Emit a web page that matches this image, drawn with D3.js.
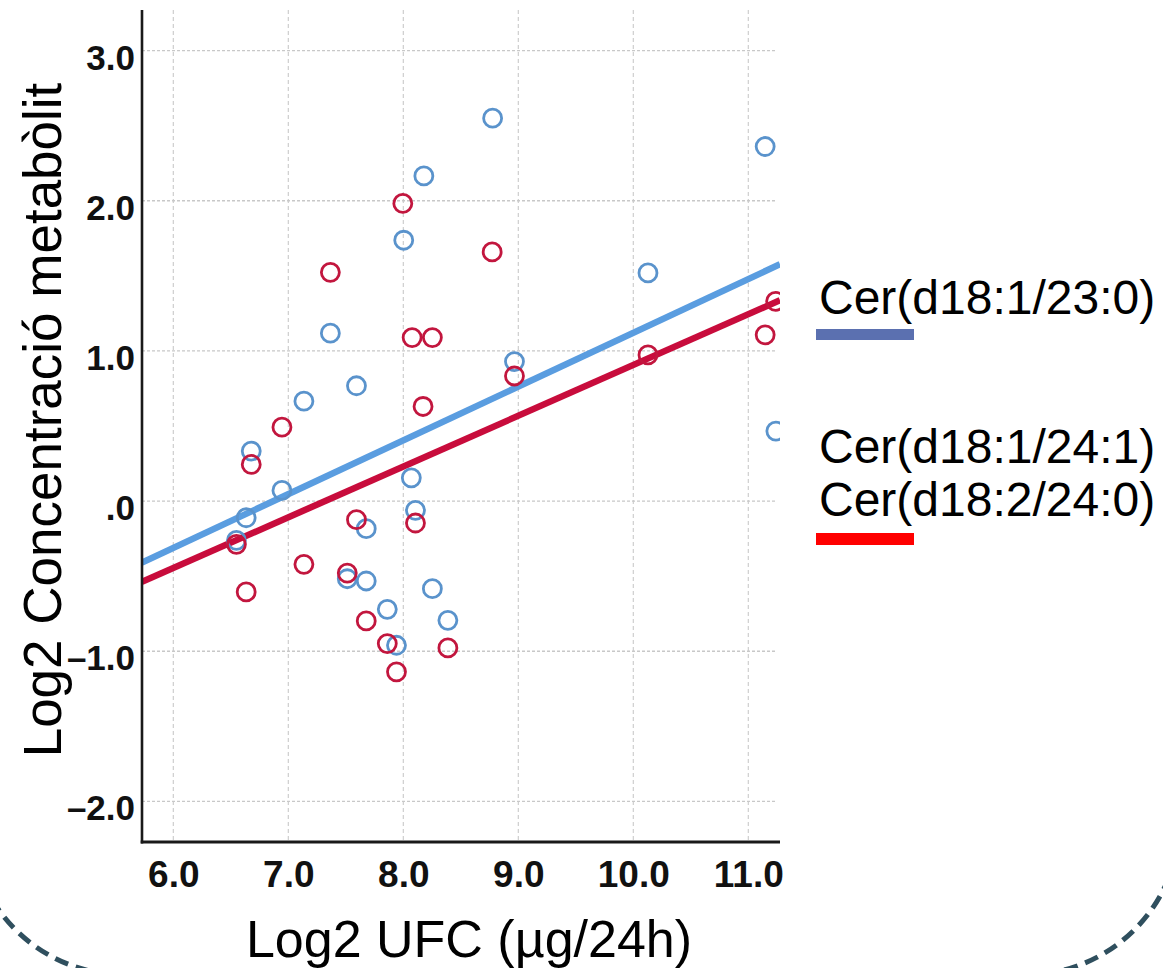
<!DOCTYPE html>
<html>
<head>
<meta charset="utf-8">
<script src="https://cdn.jsdelivr.net/npm/d3@7"></script>
<style>
  html, body { margin: 0; padding: 0; background: #ffffff; }
  svg { display: block; }
</style>
</head>
<body>
<svg id="chart" width="1163" height="968"></svg>
<script>
// ---- data ----
const xTicks = [6, 7, 8, 9, 10, 11];
const yTicks = [-2, -1, 0, 1, 2, 3];

const blueX = [8.777, 11.147, 8.179, 8.004, 10.128, 7.366, 8.967, 7.593, 7.136, 11.24, 6.678, 6.945, 8.07, 8.106, 6.634, 7.678, 6.549, 7.513, 7.678, 8.253, 7.861, 8.388, 7.941];
const blueY = [2.550, 2.361, 2.165, 1.737, 1.519, 1.118, 0.929, 0.768, 0.665, 0.466, 0.333, 0.071, 0.155, -0.062, -0.111, -0.184, -0.262, -0.517, -0.532, -0.583, -0.721, -0.794, -0.960];

const redX = [7.996, 8.773, 7.366, 8.077, 8.253, 11.147, 11.238, 10.128, 8.967, 8.172, 6.945, 6.678, 6.549, 7.593, 8.106, 7.136, 7.513, 6.634, 7.678, 7.861, 8.388, 7.941];
const redY = [1.982, 1.659, 1.523, 1.089, 1.089, 1.107, 1.330, 0.973, 0.833, 0.630, 0.492, 0.244, -0.288, -0.124, -0.146, -0.421, -0.479, -0.605, -0.798, -0.949, -0.978, -1.137];

// fitted regression lines: [blue, red]
const fitSlopes = [0.358, 0.338];
const fitIntercepts = [-2.460, -2.474];

const legendLabels = ["Cer(d18:1/23:0)", "Cer(d18:1/24:1)", "Cer(d18:2/24:0)"];

const xTitle = "Log2 UFC (µg/24h)";
const yTitle = "Log2 Concentració metabòlit";

// ---- styles ----
const bluePt = "#5a93cc", blueLine = "#5a9de0";
const redPt = "#c2163e", redLine = "#c80c3c";

const svg = d3.select("#chart");

const pL = 142, pR = 780, pT = 10, pB = 842;
const x = d3.scaleLinear().domain([5.728, 11.276]).range([pL, pR]);
const y = d3.scaleLinear().domain([-2.27, 3.27]).range([pB, pT]);

// decorative dashed rounded frame (only its corners are visible)
svg.append("rect")
  .attr("x", -30).attr("y", -400)
  .attr("width", 1210).attr("height", 1375)
  .attr("rx", 155).attr("ry", 155)
  .attr("fill", "none")
  .attr("stroke", "#2f4f5e")
  .attr("stroke-width", 5)
  .attr("stroke-dasharray", "14,8");

// clip
svg.append("clipPath").attr("id", "plotclip")
  .append("rect").attr("x", pL).attr("y", pT).attr("width", pR - pL).attr("height", pB - pT);

// grid
const grid = svg.append("g");
grid.selectAll("line.vg").data(xTicks).join("line")
  .attr("x1", d => x(d)).attr("x2", d => x(d))
  .attr("y1", pT).attr("y2", pB)
  .attr("stroke", "#c4c4c4").attr("stroke-width", 1).attr("stroke-dasharray", "4,3");
grid.selectAll("line.hg").data(yTicks).join("line")
  .attr("x1", pL).attr("x2", pR - 4)
  .attr("y1", d => y(d)).attr("y2", d => y(d))
  .attr("stroke", "#c8c8c8").attr("stroke-width", 1.3).attr("stroke-dasharray", "3,2");

const plot = svg.append("g").attr("clip-path", "url(#plotclip)");

// regression lines
const xd = x.domain();
[[blueLine, 0], [redLine, 1]].forEach(([c, i]) => {
  const pts = xd.map(v => [v, fitIntercepts[i] + fitSlopes[i] * v]);
  plot.append("path")
    .attr("d", d3.line().x(d => x(d[0])).y(d => y(d[1]))(pts))
    .attr("stroke", c).attr("stroke-width", 6.5).attr("fill", "none");
});

// points
const blueData = blueX.map((v, i) => [v, blueY[i]]);
const redData = redX.map((v, i) => [v, redY[i]]);
plot.selectAll("circle.b").data(blueData).join("circle")
  .attr("cx", d => x(d[0])).attr("cy", d => y(d[1])).attr("r", 9)
  .attr("fill", "none").attr("stroke", bluePt).attr("stroke-width", 2.8);
plot.selectAll("circle.r").data(redData).join("circle")
  .attr("cx", d => x(d[0])).attr("cy", d => y(d[1])).attr("r", 9)
  .attr("fill", "none").attr("stroke", redPt).attr("stroke-width", 2.8);

// axes
const xAxis = svg.append("g").attr("transform", `translate(0,${pB})`)
  .call(d3.axisBottom(x).tickValues(xTicks).tickSize(0).tickPadding(0).tickFormat(d3.format(".1f")));
xAxis.select(".domain").remove();
xAxis.selectAll("text")
  .attr("y", 45).attr("dy", null)
  .attr("font-family", "'Liberation Sans', Arial, sans-serif")
  .attr("font-weight", "bold").attr("font-size", 37).attr("fill", "#111");

const yAxis = svg.append("g").attr("transform", `translate(${pL},0)`)
  .call(d3.axisLeft(y).tickValues(yTicks).tickSize(0).tickPadding(0)
    .tickFormat(d => d === 0 ? ".0" : d3.format(".1f")(d).replace("−", "–")));
yAxis.select(".domain").remove();
yAxis.selectAll("text")
  .attr("x", -7).attr("dy", null).attr("y", 18.5)
  .attr("text-anchor", "end")
  .attr("font-family", "'Liberation Sans', Arial, sans-serif")
  .attr("font-weight", "bold").attr("font-size", 35).attr("fill", "#111");

// axis lines
svg.append("line").attr("x1", pL).attr("x2", pL).attr("y1", pT).attr("y2", pB + 1.5)
  .attr("stroke", "#1a1a1a").attr("stroke-width", 2.6);
svg.append("line").attr("x1", pL - 1.3).attr("x2", pR).attr("y1", pB).attr("y2", pB)
  .attr("stroke", "#1a1a1a").attr("stroke-width", 3);

// titles
svg.append("text").attr("x", 469).attr("y", 957).attr("text-anchor", "middle")
  .attr("font-family", "'Liberation Sans', Arial, sans-serif").attr("font-size", 52).attr("fill", "#000")
  .text(xTitle);
svg.append("text").attr("transform", "translate(61,420) rotate(-90)").attr("text-anchor", "middle")
  .attr("font-family", "'Liberation Sans', Arial, sans-serif").attr("font-size", 53).attr("fill", "#000")
  .text(yTitle);

// legend
const lg = svg.append("g").attr("font-family", "'Liberation Sans', Arial, sans-serif").attr("font-size", 48).attr("fill", "#000");
lg.append("text").attr("x", 819).attr("y", 314).text(legendLabels[0]);
lg.append("rect").attr("x", 816).attr("y", 329).attr("width", 98).attr("height", 11).attr("fill", "#5b70b0");
lg.append("text").attr("x", 819).attr("y", 463).text(legendLabels[1]);
lg.append("text").attr("x", 819).attr("y", 516).text(legendLabels[2]);
lg.append("rect").attr("x", 816).attr("y", 533).attr("width", 98).attr("height", 12).attr("fill", "#ff0000");
</script>
</body>
</html>
